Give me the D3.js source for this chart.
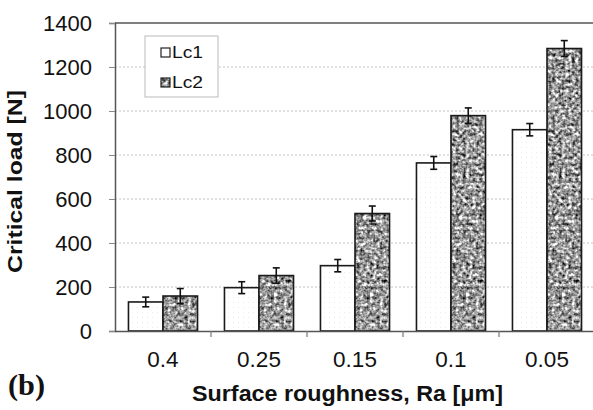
<!DOCTYPE html>
<html lang="en">
<head>
<meta charset="utf-8">
<title>Critical load vs surface roughness</title>
<script src="https://cdn.jsdelivr.net/npm/d3@7"></script>
<style>
body { margin: 0; background: #fff; }
svg { font-family: Arial, "Liberation Sans", sans-serif; }
</style>
</head>
<body>
<div id="chart"></div>
<script>
const categories = ["0.4", "0.25", "0.15", "0.1", "0.05"];
const series = ["Lc1", "Lc2"];
const lc1 = [132, 197, 297, 764, 915];
const lc2 = [159, 252, 534, 979, 1284];
const lc1Err = [22, 27, 28, 29, 28];
const lc2Err = [34, 35, 34, 35, 36];
const yTicks = [0, 200, 400, 600, 800, 1000, 1200, 1400];

const width = 593, height = 410;
const margin = {left: 115, top: 23, right: -2, bottom: 79};

const svg = d3.select("#chart").append("svg")
    .attr("width", width)
    .attr("height", height);

const defs = svg.append("defs");

// granite look for Lc2 bars
const f = defs.append("filter").attr("id", "granite")
    .attr("x", 0).attr("y", 0).attr("width", 1).attr("height", 1)
    .attr("color-interpolation-filters", "sRGB");
f.append("feTurbulence").attr("type", "fractalNoise")
    .attr("baseFrequency", 0.3).attr("numOctaves", 2).attr("seed", 3).attr("result", "noise");
f.append("feColorMatrix").attr("in", "noise").attr("type", "matrix")
    .attr("values", "1.15 1.15 0 0 -0.55  1.15 1.15 0 0 -0.55  1.15 1.15 0 0 -0.55  0 0 0 0 1")
    .attr("result", "gray");
f.append("feComposite").attr("in", "gray").attr("in2", "SourceGraphic").attr("operator", "in");

// faint dots for Lc1 bars
const dots = defs.append("pattern").attr("id", "dots")
    .attr("width", 5).attr("height", 5).attr("patternUnits", "userSpaceOnUse");
dots.append("rect").attr("width", 5).attr("height", 5).attr("fill", "#fff");
dots.append("rect").attr("x", 2).attr("y", 2).attr("width", 1).attr("height", 1).attr("fill", "#ececec");

const x0 = d3.scaleBand()
    .domain(categories)
    .range([margin.left, width - margin.right]);

const x1 = d3.scaleBand()
    .domain(series)
    .range([0, x0.bandwidth()])
    .paddingOuter(0.39)
    .paddingInner(0);

const y = d3.scaleLinear()
    .domain([0, 1400])
    .range([height - margin.bottom, margin.top]);

// grid lines
svg.append("g").selectAll("line")
    .data(yTicks.filter(d => d > 0 && d < 1400))
    .join("line")
    .attr("x1", margin.left).attr("x2", width)
    .attr("y1", d => y(d)).attr("y2", d => y(d))
    .attr("stroke", "#c4c4c4")
    .attr("stroke-dasharray", "2,2")
    .attr("stroke-width", 1);

// frame top
svg.append("line")
    .attr("x1", margin.left).attr("x2", width)
    .attr("y1", y(1400)).attr("y2", y(1400))
    .attr("stroke", "#555").attr("stroke-width", 1.5);

const groups = svg.append("g").selectAll("g")
    .data(categories)
    .join("g")
    .attr("transform", d => `translate(${x0(d)},0)`);

const vals = [lc1, lc2];
const errs = [lc1Err, lc2Err];

groups.each(function(c, i) {
    const g = d3.select(this);
    series.forEach((s, k) => {
        const v = vals[k][i];
        const bx = x1(s), bw = x1.bandwidth();
        if (k === 0) {
            g.append("rect")
                .attr("x", bx).attr("y", y(v))
                .attr("width", bw).attr("height", y(0) - y(v))
                .attr("fill", "url(#dots)");
        } else {
            g.append("rect")
                .attr("x", bx).attr("y", y(v))
                .attr("width", bw).attr("height", y(0) - y(v))
                .attr("fill", "#999")
                .attr("filter", "url(#granite)");
        }
        g.append("rect")
            .attr("x", bx).attr("y", y(v))
            .attr("width", bw).attr("height", y(0) - y(v))
            .attr("fill", "none")
            .attr("stroke", "#1a1a1a")
            .attr("stroke-width", 1.6);
        // error bar
        const cx = bx + bw / 2, e = errs[k][i];
        const eg = g.append("g").attr("stroke", "#111").attr("stroke-width", 1.6);
        eg.append("line").attr("x1", cx).attr("x2", cx).attr("y1", y(v + e)).attr("y2", y(v - e));
        eg.append("line").attr("x1", cx - 3.5).attr("x2", cx + 3.5).attr("y1", y(v + e)).attr("y2", y(v + e));
        eg.append("line").attr("x1", cx - 3.5).attr("x2", cx + 3.5).attr("y1", y(v - e)).attr("y2", y(v - e));
    });
});

// y axis
const yAxis = svg.append("g")
    .attr("transform", `translate(${margin.left},0)`)
    .call(d3.axisLeft(y).tickValues(yTicks).tickFormat(d3.format("d")).tickSize(6).tickPadding(17));
yAxis.select(".domain").attr("stroke", "#555").attr("stroke-width", 1.5);
yAxis.selectAll(".tick line").attr("stroke", "#888");
yAxis.selectAll(".tick text")
    .attr("font-size", 22).attr("fill", "#111")
    .attr("font-family", "Arial, 'Liberation Sans', sans-serif");

// x axis
const xAxis = svg.append("g")
    .attr("transform", `translate(0,${y(0)})`)
    .call(d3.axisBottom(x0).tickSize(0).tickPadding(20));
xAxis.select(".domain").attr("stroke", "#555").attr("stroke-width", 1.5);
xAxis.selectAll(".tick text")
    .attr("font-size", 22.5).attr("fill", "#111")
    .attr("font-family", "Arial, 'Liberation Sans', sans-serif");
// boundary ticks between categories
svg.append("g").selectAll("line")
    .data(categories.slice(1))
    .join("line")
    .attr("x1", d => x0(d)).attr("x2", d => x0(d))
    .attr("y1", y(0)).attr("y2", y(0) + 6)
    .attr("stroke", "#777").attr("stroke-width", 1.2);

// axis titles
svg.append("text")
    .attr("x", 347.5).attr("y", 401)
    .attr("text-anchor", "middle")
    .attr("font-size", 22).attr("font-weight", "bold").attr("fill", "#111")
    .attr("textLength", 311).attr("lengthAdjust", "spacingAndGlyphs")
    .text("Surface roughness, Ra [μm]");

svg.append("text")
    .attr("transform", "translate(22,181.5) rotate(-90)")
    .attr("text-anchor", "middle")
    .attr("font-size", 21).attr("font-weight", "bold").attr("fill", "#111")
    .attr("textLength", 183).attr("lengthAdjust", "spacingAndGlyphs")
    .text("Critical load [N]");

svg.append("text")
    .attr("x", 8).attr("y", 395)
    .attr("font-family", "'Liberation Serif', 'Times New Roman', serif")
    .attr("font-size", 29).attr("font-weight", "bold").attr("fill", "#111")
    .attr("textLength", 37).attr("lengthAdjust", "spacingAndGlyphs")
    .text("(b)");

// legend
const legend = svg.append("g").attr("transform", "translate(145,36)");
legend.append("rect")
    .attr("width", 73).attr("height", 61)
    .attr("fill", "#fff").attr("stroke", "#bbb").attr("stroke-width", 1);
series.forEach((s, k) => {
    const ly = 12 + k * 30;
    legend.append("rect")
        .attr("x", 16).attr("y", ly).attr("width", 9).attr("height", 9)
        .attr("fill", k === 0 ? "#fff" : "#999")
        .attr("filter", k === 0 ? null : "url(#granite)");
    legend.append("rect")
        .attr("x", 16).attr("y", ly).attr("width", 9).attr("height", 9)
        .attr("fill", "none").attr("stroke", "#222").attr("stroke-width", 1.2);
    legend.append("text")
        .attr("x", 27).attr("y", ly + 9.5)
        .attr("font-size", 17).attr("fill", "#111")
        .attr("textLength", 31).attr("lengthAdjust", "spacingAndGlyphs")
        .text(s);
});
</script>
</body>
</html>
